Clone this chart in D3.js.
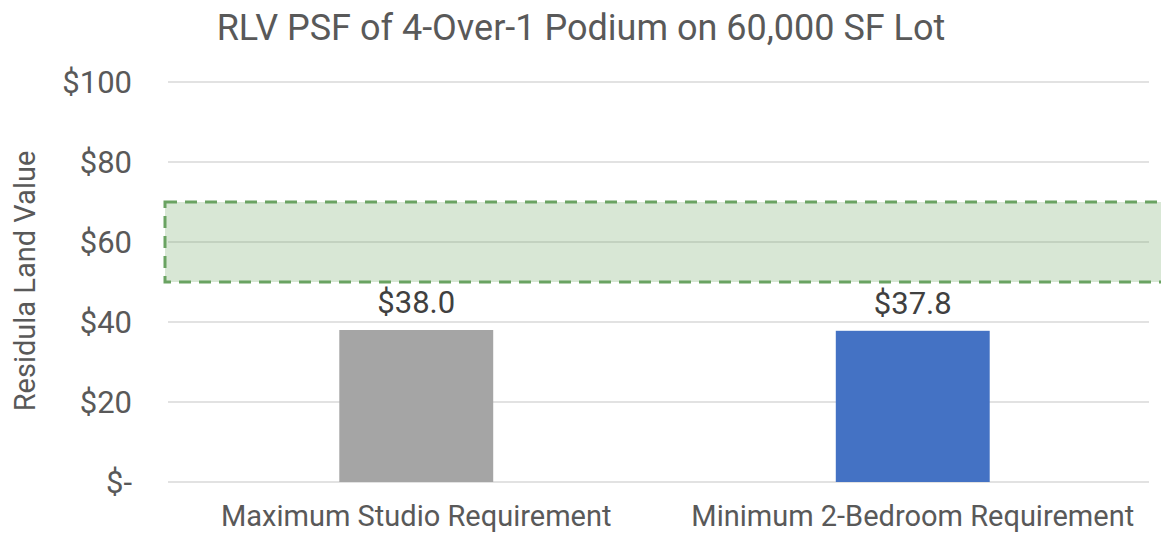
<!DOCTYPE html>
<html>
<head>
<meta charset="utf-8">
<script src="https://cdn.jsdelivr.net/npm/d3@7"></script>
<style>
	body { margin: 0; background: #fff; }
	text { font-family: Roboto, "Liberation Sans", sans-serif; }
</style>
</head>
<body>
<div id="container"></div>
<script>
// data
var categories = ["Maximum Studio Requirement", "Minimum 2-Bedroom Requirement"];
var values = [38.0, 37.8];
var barColors = ["#a5a5a5", "#4472c4"];
var yTicks = [0, 20, 40, 60, 80, 100];
var targetRange = [50, 70];
var title = "RLV PSF of 4-Over-1 Podium on 60,000 SF Lot";
var yLabel = "Residula Land Value";

(function () {
	var W = 1161, H = 535;
	var margin = {top: 82, right: 0, bottom: 53, left: 168};

	var svg = d3.select("#container").append("svg")
		.attr("width", W)
		.attr("height", H);

	// scales
	var xScale = d3.scaleBand()
		.domain(categories)
		.range([margin.left, W - margin.right])
		.padding(0);

	var yScale = d3.scaleLinear()
		.domain([0, 100])
		.range([H - margin.bottom, margin.top]);

	// gridlines
	svg.append("g")
		.selectAll("line")
		.data(yTicks)
		.enter()
		.append("line")
			.attr("x1", margin.left)
			.attr("x2", W - 12)
			.attr("y1", d => yScale(d))
			.attr("y2", d => yScale(d))
			.attr("stroke", "#d9d9d9")
			.attr("stroke-width", 1.5);

	// y axis labels
	var fmt = function(d) { return d === 0 ? "$-" : "$" + d; };
	svg.append("g")
		.selectAll("text")
		.data(yTicks)
		.enter()
		.append("text")
			.attr("x", 132)
			.attr("y", d => yScale(d))
			.attr("dy", "0.36em")
			.attr("text-anchor", "end")
			.attr("fill", "#595959")
			.style("font-size", "31px")
			.text(fmt);

	// target band
	svg.append("rect")
		.attr("x", margin.left - 3)
		.attr("y", yScale(targetRange[1]))
		.attr("width", W - margin.left + 10)
		.attr("height", yScale(targetRange[0]) - yScale(targetRange[1]))
		.attr("fill", "rgba(112,168,100,0.27)")
		.attr("stroke", "#6aa362")
		.attr("stroke-width", 3)
		.attr("stroke-dasharray", "12,8");

	// bars
	var bw = xScale.bandwidth() * 0.31;
	svg.selectAll(".bar")
		.data(values)
		.enter()
		.append("rect")
			.attr("class", "bar")
			.attr("x", (d, i) => xScale(categories[i]) + xScale.bandwidth() / 2 - bw / 2)
			.attr("y", d => yScale(d))
			.attr("width", bw)
			.attr("height", d => yScale(0) - yScale(d))
			.attr("fill", (d, i) => barColors[i]);

	// value labels
	svg.selectAll(".label")
		.data(values)
		.enter()
		.append("text")
			.attr("class", "label")
			.attr("x", (d, i) => xScale(categories[i]) + xScale.bandwidth() / 2)
			.attr("y", d => yScale(d) - 17)
			.attr("text-anchor", "middle")
			.attr("fill", "#404040")
			.style("font-size", "31px")
			.text(d => "$" + d.toFixed(1));

	// category labels
	svg.selectAll(".cat")
		.data(categories)
		.enter()
		.append("text")
			.attr("class", "cat")
			.attr("x", d => xScale(d) + xScale.bandwidth() / 2)
			.attr("y", 526)
			.attr("text-anchor", "middle")
			.attr("fill", "#595959")
			.style("font-size", "29px")
			.text(d => d);

	// title
	svg.append("text")
		.attr("x", 581)
		.attr("y", 40)
		.attr("text-anchor", "middle")
		.attr("fill", "#595959")
		.style("font-size", "36px")
		.text(title);

	// y axis title
	svg.append("text")
		.attr("transform", "translate(35," + (yScale(50) - 1) + ") rotate(-90)")
		.attr("text-anchor", "middle")
		.attr("fill", "#595959")
		.style("font-size", "29px")
		.text(yLabel);
})()
</script>
</body>
</html>
